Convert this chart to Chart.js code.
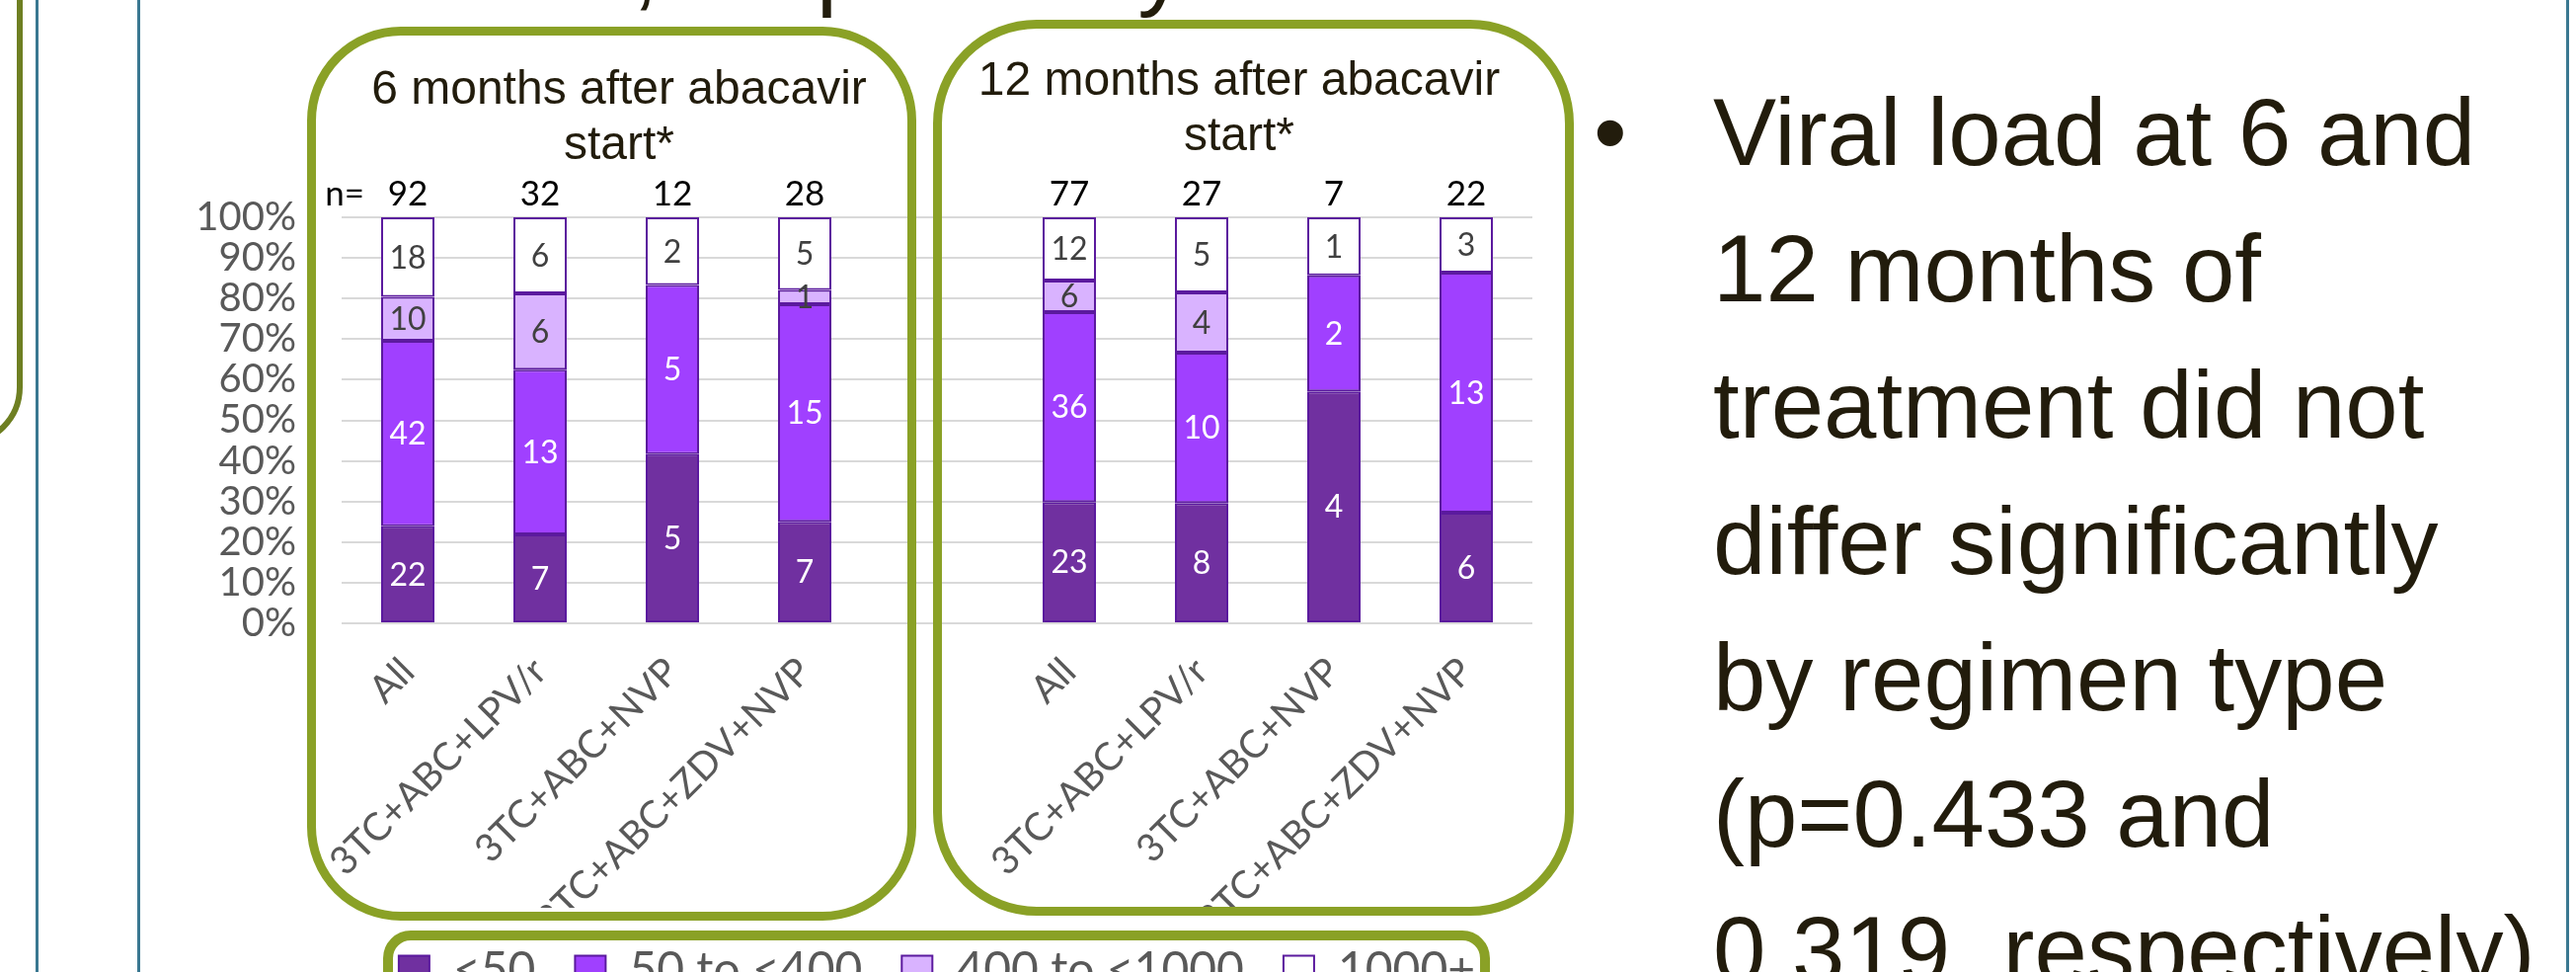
<!DOCTYPE html>
<html><head><meta charset="utf-8">
<script src="https://cdn.jsdelivr.net/npm/chart.js@4.4.1/dist/chart.umd.min.js"></script>
<style>
html,body{margin:0;padding:0;background:#fff;width:2609px;height:984px;overflow:hidden;position:relative;}
#wrap{position:absolute;left:0;top:0;width:1700px;height:1017px;}
.box{position:absolute;border-style:solid;border-color:#8aa126;box-sizing:border-box;pointer-events:none;background:transparent;}
.title{position:absolute;font-family:'Liberation Sans',Arial,sans-serif;font-size:48px;line-height:56px;color:#221c0c;text-align:center;white-space:nowrap;width:600px;}
.vline{position:absolute;top:0;height:984px;width:3px;background:#3a7891;}
.big{position:absolute;font-family:'Liberation Sans',Arial,sans-serif;font-size:96px;line-height:138px;color:#221c0c;white-space:nowrap;}
</style></head><body>
<div class="vline" style="left:36px"></div>
<div class="vline" style="left:139px"></div>
<div class="vline" style="left:2599px"></div>
<div class="box" style="left:-200px;top:-100px;width:223px;height:552px;border-width:6px;border-radius:60px;border-color:#6e7f22"></div>
<div class="big" style="left:640px;top:-83px;line-height:96px">, respectively</div>
<div id="wrap"><canvas id="c" width="1700" height="1017"></canvas></div>
<div class="box" style="left:311px;top:27px;width:617px;height:905px;border-width:9px;border-radius:95px"></div>
<div class="box" style="left:945px;top:20px;width:649px;height:907px;border-width:9px;border-radius:105px"></div>
<div class="box" style="left:388px;top:942px;width:1121px;height:120px;border-width:10px;border-radius:28px"></div>
<div class="title" style="left:327px;top:61px">6 months after abacavir<br>start*</div>
<div class="title" style="left:955px;top:52px">12 months after abacavir<br>start*</div>
<div class="big" style="left:1614px;top:65px">•</div>
<div class="big" style="left:1735px;top:65px">Viral load at 6 and<br>12 months of<br>treatment did not<br>differ significantly<br>by regimen type<br>(p=0.433 and<br>0.319, respectively)</div>
<script>
const categories = ['All','3TC+ABC+LPV/r','3TC+ABC+NVP','3TC+ABC+ZDV+NVP','','All','3TC+ABC+LPV/r','3TC+ABC+NVP','3TC+ABC+ZDV+NVP'];
const seriesNames = ['<50','50 to <400','400 to <1000','1000+'];
const countLt50 = [22, 7, 5, 7, null, 23, 8, 4, 6];
const count50to400 = [42, 13, 5, 15, null, 36, 10, 2, 13];
const count400to1000 = [10, 6, 0, 1, null, 6, 4, 0, 0];
const count1000plus = [18, 6, 2, 5, null, 12, 5, 1, 3];
const nLabels = [92, 32, 12, 28, null, 77, 27, 7, 22];
const yTickValues = [0,10,20,30,40,50,60,70,80,90,100];

const seriesCounts = [countLt50, count50to400, count400to1000, count1000plus];
const segColors = ['#7030a0','#a040ff','#d9b3ff','#ffffff'];
const segBorder = '#5b1a9e';
const labelFont = 'Lato';

function toPct(counts){
  return counts.map((c, j) => (c == null || nLabels[j] == null) ? null : c / nLabels[j] * 100);
}

const segLabelPlugin = {
  id: 'segLabels',
  afterDatasetsDraw(chart){
    const ctx = chart.ctx;
    ctx.save();
    ctx.font = '32px ' + labelFont;
    ctx.textAlign = 'center';
    ctx.textBaseline = 'middle';
    chart.data.datasets.forEach((ds, i) => {
      const meta = chart.getDatasetMeta(i);
      meta.data.forEach((el, j) => {
        const c = seriesCounts[i][j];
        if (!c) return;
        ctx.fillStyle = i < 2 ? '#ffffff' : '#404040';
        ctx.fillText(String(c), el.x, (el.y + el.base) / 2 + 1);
      });
    });
    const xs = chart.scales.x;
    const top = chart.chartArea.top;
    ctx.fillStyle = '#000000';
    ctx.font = '35px ' + labelFont;
    ctx.textBaseline = 'alphabetic';
    nLabels.forEach((n, j) => {
      if (n == null) return;
      ctx.fillText(String(n), xs.getPixelForValue(j), top - 12);
    });
    ctx.textAlign = 'right';
    ctx.fillText('n=', xs.getPixelForValue(0) - 44, top - 12);
    ctx.restore();
  }
};

new Chart(document.getElementById('c'), {
  type: 'bar',
  data: {
    labels: categories,
    datasets: seriesCounts.map((cs, i) => ({
      label: seriesNames[i],
      data: toPct(cs),
      backgroundColor: segColors[i],
      borderColor: segBorder,
      borderWidth: 2,
      borderSkipped: false,
      categoryPercentage: 1,
      barPercentage: 0.403
    }))
  },
  options: {
    responsive: false,
    animation: false,
    devicePixelRatio: 1,
    layout: { padding: { top: 220, left: 0, right: 148, bottom: 0 } },
    scales: {
      x: {
        stacked: true,
        grid: { display: false },
        border: { display: false },
        ticks: {
          autoSkip: false, minRotation: 45, maxRotation: 45, padding: 18,
          color: '#595959', font: { family: labelFont, size: 39 }
        },
        afterFit(s){ s.height = 288; }
      },
      y: {
        stacked: true, min: 0, max: 100,
        grid: { color: '#d9d9d9', lineWidth: 2, drawTicks: false },
        border: { display: false },
        ticks: {
          stepSize: 10, autoSkip: false, padding: 46, color: '#595959',
          font: { family: labelFont, size: 40 },
          callback: (v) => yTickValues.includes(v) ? v + '%' : ''
        },
        afterFit(s){ s.width = 346; }
      }
    },
    plugins: {
      tooltip: { enabled: false },
      legend: {
        position: 'bottom',
        fullSize: false,
        labels: {
          boxWidth: 31, boxHeight: 31, padding: 40,
          color: '#595959', font: { family: labelFont, size: 48 }
        }
      }
    }
  },
  plugins: [segLabelPlugin]
});
</script>
</body></html>
